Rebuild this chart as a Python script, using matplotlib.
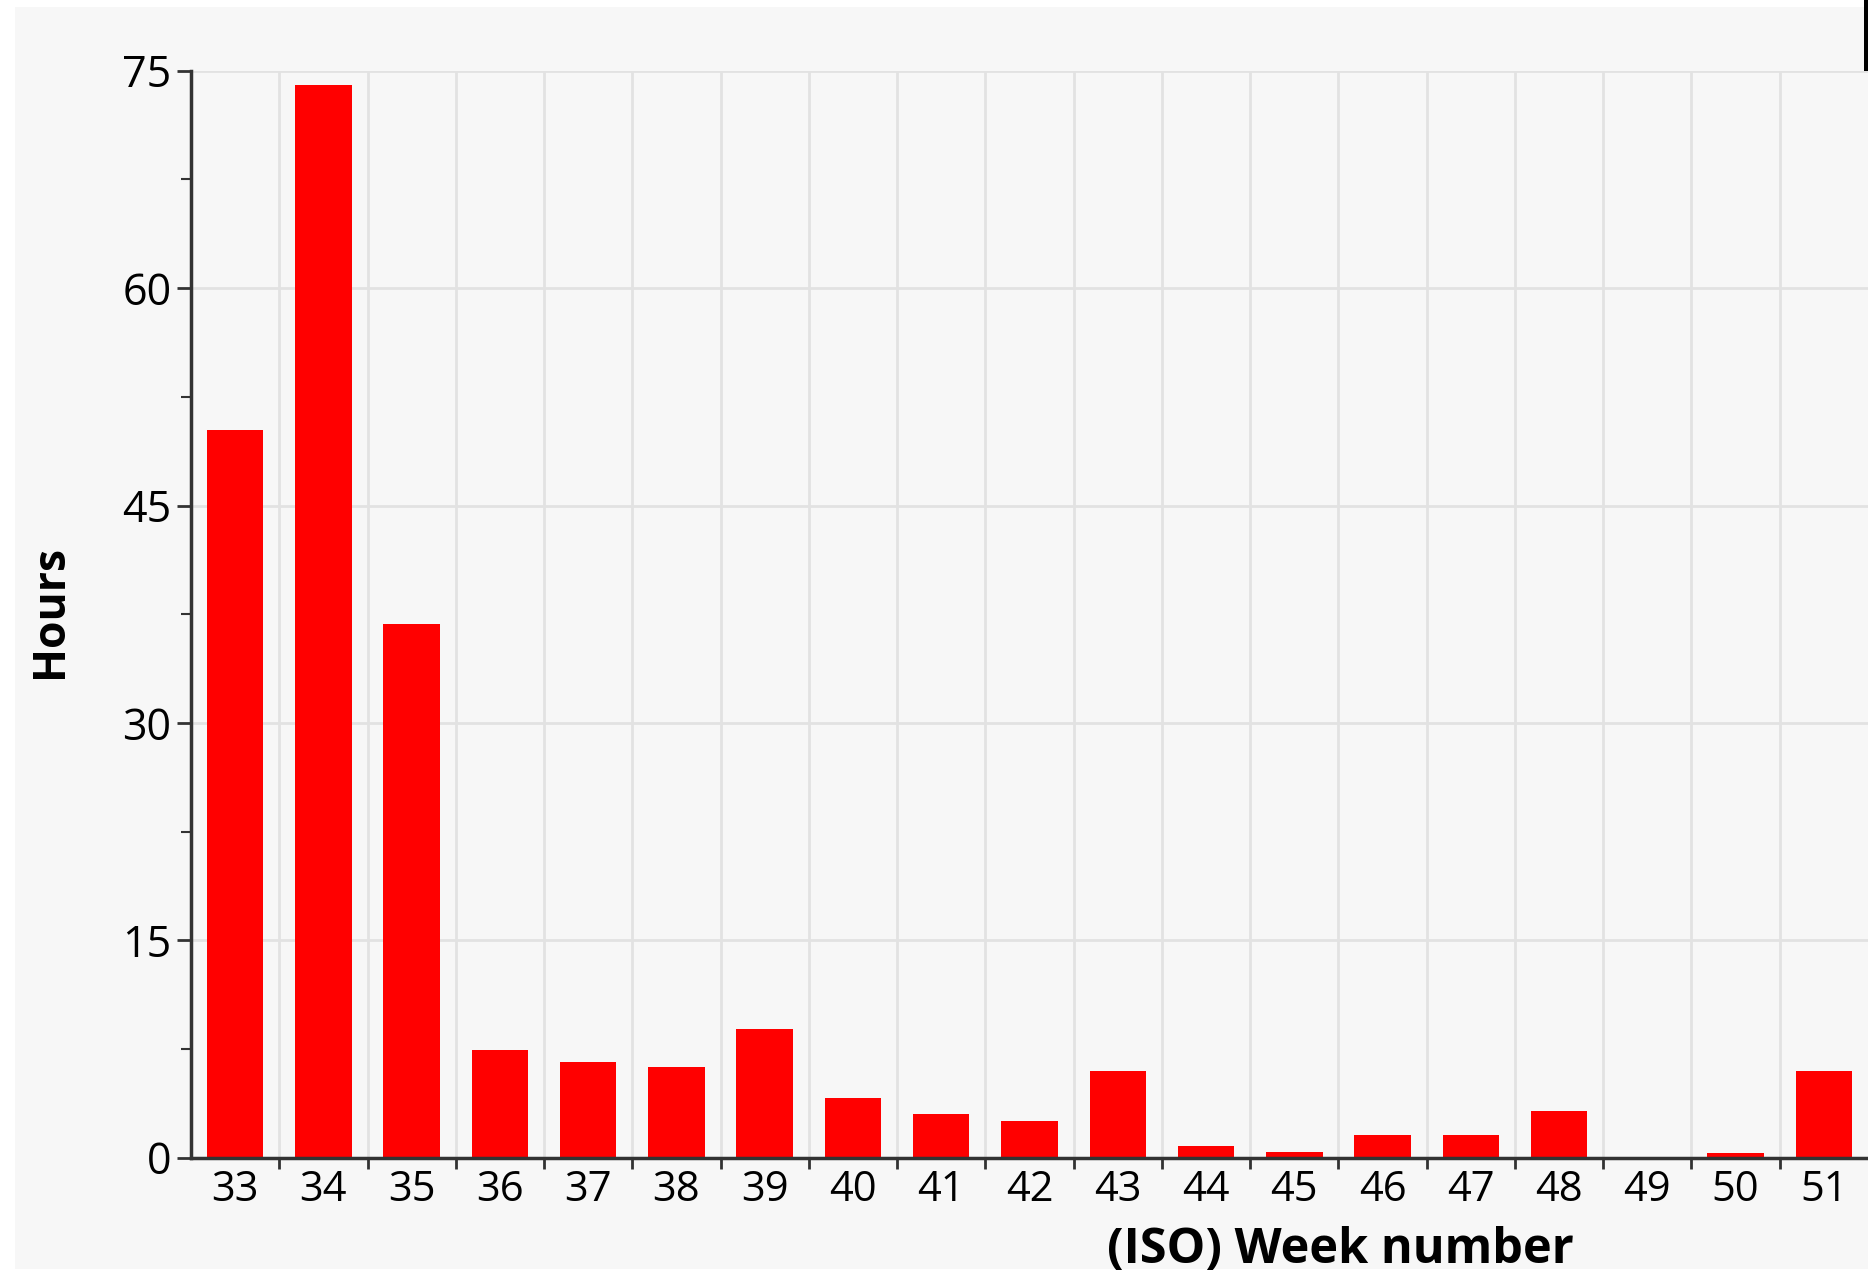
import matplotlib
matplotlib.use("Agg")
import matplotlib.pyplot as plt
from matplotlib.patches import Rectangle
from matplotlib.ticker import MultipleLocator

plt.rcParams['font.family'] = ['Open Sans', 'DejaVu Sans']

# Daten: Stunden pro ISO-Woche
weeks = [33, 34, 35, 36, 37, 38, 39, 40, 41, 42, 43, 44, 45, 46, 47, 48, 49, 50, 51]
hours = [50.2, 74.0, 36.8, 7.4, 6.6, 6.25, 8.9, 4.1, 3.0, 2.55, 5.95, 0.8, 0.4, 1.55, 1.55, 3.2, 0.0, 0.35, 6.0]
week_labels = [str(w) for w in weeks]
y_ticks = [0, 15, 30, 45, 60, 75]

W, H = 1868, 1275
fig = plt.figure(figsize=(W / 100, H / 100), dpi=100)
fig.patch.set_facecolor('white')

# grauer Hintergrund mit schmalem weissen Rand oben/links
bg = '#f7f7f7'
fig.patches.append(Rectangle((15 / W, 1 - 1269 / H), (W - 15) / W, (1269 - 7) / H,
                             transform=fig.transFigure, facecolor=bg, edgecolor='none', zorder=-2))
# dunkles Artefakt am rechten Rand
fig.patches.append(Rectangle((1864 / W, 1 - 165 / H), 4 / W, 165 / H,
                             transform=fig.transFigure, facecolor='black', edgecolor='none', zorder=-1))

ax = fig.add_axes([191 / W, 1 - 1157.7 / H, (W - 191) / W, (1157.7 - 70.7) / H])
ax.set_facecolor(bg)

x = list(range(len(weeks)))
ax.bar(x, hours, width=0.64, color='#ff0000', zorder=3)

ax.set_xlim(-0.5, len(weeks) - 0.5)
ax.set_ylim(0, 75)

ax.set_xticks(x)
ax.set_xticklabels(week_labels, fontsize=30)
ax.set_xticks([i + 0.5 for i in x[:-1]], minor=True)
ax.tick_params(axis='x', which='major', length=0, pad=8)
ax.tick_params(axis='x', which='minor', length=8, width=2, color='#333333')

ax.set_yticks(y_ticks)
ax.set_yticklabels([str(v) for v in y_ticks], fontsize=31)
ax.yaxis.set_minor_locator(MultipleLocator(7.5))
ax.tick_params(axis='y', which='major', length=10, width=2, color='#333333', pad=4)
ax.tick_params(axis='y', which='minor', length=7, width=1.5, color='#333333')

ax.grid(axis='y', which='major', color='#e2e2e2', linewidth=2, zorder=0)
ax.grid(axis='x', which='minor', color='#e2e2e2', linewidth=2, zorder=0)

for s in ['top', 'right']:
    ax.spines[s].set_visible(False)
for s in ['left', 'bottom']:
    ax.spines[s].set_color('#333333')
    ax.spines[s].set_linewidth(2.5)
    ax.spines[s].set_zorder(4)

fig.text(50 / W, 1 - 611 / H, 'Hours', rotation=90, fontsize=32, fontweight='bold',
         ha='center', va='center')
fig.text(1340 / W, 1 - 1250 / H, '(ISO) Week number', fontsize=35, fontweight='bold',
         ha='center', va='center')

fig.savefig('out.png', dpi=100, facecolor=fig.get_facecolor())
